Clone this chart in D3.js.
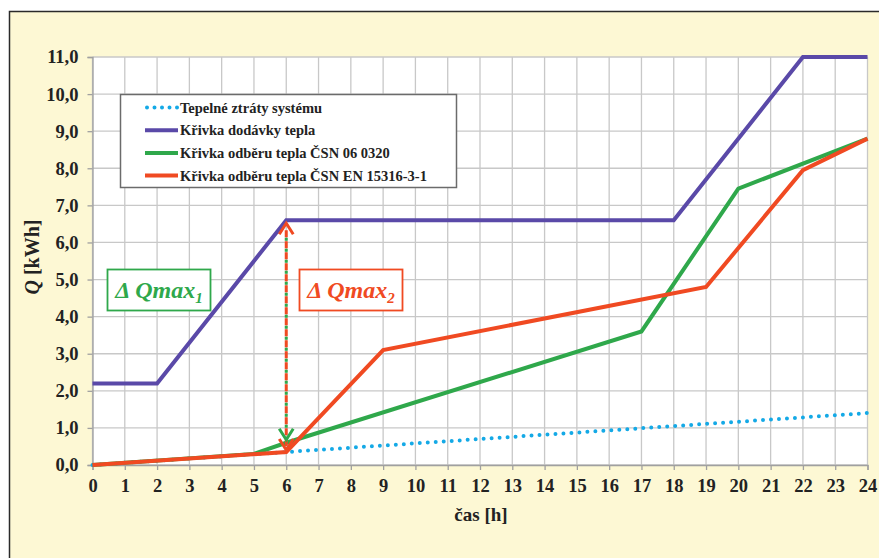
<!DOCTYPE html>
<html>
<head>
<meta charset="utf-8">
<script src="https://cdn.jsdelivr.net/npm/d3@7"></script>
<style>
  html, body { margin: 0; padding: 0; background: #ffffff; }
  svg { display: block; }
  text { font-family: "Liberation Serif", "Times New Roman", serif; }
</style>
</head>
<body>
<svg id="chart" width="879" height="558"></svg>
<script>
// Hours on the x axis and heat values on the y axis
const hourTicks = d3.range(0, 25);
const valueTicks = d3.range(0, 12);

// Heat losses of the system (dotted)
const lossHours  = [0, 6, 12, 18, 24];
const lossValues = [0, 0.35, 0.7, 1.05, 1.4];

// Heat supply curve
const supplyHours  = [0, 2, 6, 18, 22, 24];
const supplyValues = [2.2, 2.2, 6.6, 6.6, 11.0, 11.0];

// Heat demand curve, ČSN 06 0320
const demandCsnHours  = [0, 5, 6, 17, 20, 24];
const demandCsnValues = [0, 0.3, 0.6, 3.6, 7.45, 8.8];

// Heat demand curve, ČSN EN 15316-3-1
const demandEnHours  = [0, 6, 9, 19, 22, 24];
const demandEnValues = [0, 0.35, 3.1, 4.8, 7.95, 8.8];

const seriesNames = [
  "Tepelné ztráty systému",
  "Křivka dodávky tepla",
  "Křivka odběru tepla ČSN 06 0320",
  "Křivka odběru tepla ČSN EN 15316-3-1"
];
const colors = { loss: "#14a9e6", supply: "#5a49a8", csn: "#2fa84b", en: "#f04a22" };

const svg = d3.select("#chart");

// Page frame
svg.append("rect")
  .attr("x", 9.5).attr("y", 11.5).attr("width", 900).attr("height", 600)
  .attr("fill", "#fdf8d4").attr("stroke", "#2a2a2a").attr("stroke-width", 1.5);

const x = d3.scaleLinear().domain([0, 24]).range([92.5, 867.5]);
const y = d3.scaleLinear().domain([0, 11]).range([465, 57]);

// Plot area
svg.append("rect")
  .attr("x", x(0)).attr("y", y(11))
  .attr("width", x(24) - x(0)).attr("height", y(0) - y(11))
  .attr("fill", "#ffffff");

// Grid
const grid = svg.append("g").attr("stroke", "#c8c8c8").attr("stroke-width", 1.3);
grid.selectAll("line.v").data(hourTicks).join("line")
  .attr("x1", d => x(d)).attr("x2", d => x(d))
  .attr("y1", y(0)).attr("y2", y(11));
grid.selectAll("line.h").data(valueTicks).join("line")
  .attr("x1", x(0)).attr("x2", x(24))
  .attr("y1", d => y(d)).attr("y2", d => y(d));

// Axes
const fmt = d => d3.format(".1f")(d).replace(".", ",");
const yAxis = svg.append("g")
  .attr("transform", `translate(${x(0)},0)`)
  .call(d3.axisLeft(y).tickValues(valueTicks).tickFormat(fmt).tickSize(5).tickPadding(9));
const xAxis = svg.append("g")
  .attr("transform", `translate(0,${y(0)})`)
  .call(d3.axisBottom(x).tickValues(hourTicks).tickFormat(d3.format("d")).tickSize(5).tickPadding(9));
[yAxis, xAxis].forEach(ax => {
  ax.attr("font-family", null);
  ax.select(".domain").attr("stroke", "#a0a0a0").attr("stroke-width", 1.3);
  ax.selectAll(".tick line").attr("stroke", "#a0a0a0").attr("stroke-width", 1.3);
  ax.selectAll(".tick text")
    .attr("fill", "#222").attr("font-size", 18.5).attr("font-weight", "bold");
});

// Axis titles
svg.append("text")
  .attr("transform", `translate(39,257) rotate(-90)`)
  .attr("text-anchor", "middle").attr("font-size", 20).attr("font-weight", "bold").attr("fill", "#222")
  .call(t => {
    t.append("tspan").attr("font-style", "italic").text("Q");
    t.append("tspan").text(" [kWh]");
  });
svg.append("text")
  .attr("x", 481).attr("y", 521)
  .attr("text-anchor", "middle").attr("font-size", 19).attr("font-weight", "bold").attr("fill", "#222")
  .text("čas [h]");

// Series
const line = d3.line().x(d => x(d[0])).y(d => y(d[1]));
const pairs = (hs, vs) => hs.map((h, i) => [h, vs[i]]);

svg.append("path").datum(pairs(lossHours, lossValues))
  .attr("d", line).attr("fill", "none")
  .attr("stroke", colors.loss).attr("stroke-width", 4)
  .attr("stroke-linecap", "round").attr("stroke-dasharray", "0 8");

svg.append("path").datum(pairs(supplyHours, supplyValues))
  .attr("d", line).attr("fill", "none")
  .attr("stroke", colors.supply).attr("stroke-width", 4);

svg.append("path").datum(pairs(demandCsnHours, demandCsnValues))
  .attr("d", line).attr("fill", "none")
  .attr("stroke", colors.csn).attr("stroke-width", 4);

svg.append("path").datum(pairs(demandEnHours, demandEnValues))
  .attr("d", line).attr("fill", "none")
  .attr("stroke", colors.en).attr("stroke-width", 4);

// ΔQmax arrows at hour 6: from the supply curve down to each demand curve
const hArrow = 6;
const topV = supplyValues[supplyHours.indexOf(hArrow)];
const csnV = demandCsnValues[demandCsnHours.indexOf(hArrow)];
const enV  = demandEnValues[demandEnHours.indexOf(hArrow)];
const ax6 = x(hArrow);

svg.append("line")
  .attr("x1", ax6).attr("x2", ax6).attr("y1", y(topV) + 10).attr("y2", y(csnV) - 8)
  .attr("stroke", colors.csn).attr("stroke-width", 3).attr("stroke-dasharray", "3 8")
  .attr("stroke-dashoffset", -7.5);
svg.append("line")
  .attr("x1", ax6).attr("x2", ax6).attr("y1", y(topV) + 10).attr("y2", y(enV) - 6)
  .attr("stroke", colors.en).attr("stroke-width", 3).attr("stroke-dasharray", "7 4");

function chevron(cx, tipY, dir, color) {
  // dir = -1 points up, +1 points down
  const w = 7, h = 11;
  svg.append("path")
    .attr("d", `M${cx - w},${tipY - dir * h} L${cx},${tipY} L${cx + w},${tipY - dir * h}`)
    .attr("fill", "none").attr("stroke", color).attr("stroke-width", 3)
    .attr("stroke-linejoin", "miter");
}
chevron(ax6, y(topV) + 3, -1, colors.en);
chevron(ax6, y(csnV) - 3, 1, colors.csn);
chevron(ax6, y(enV) - 2, 1, colors.en);

// ΔQmax labels
function deltaLabel(cx, cy, color, sub) {
  const g = svg.append("g");
  g.append("rect")
    .attr("x", cx - 51.5).attr("y", cy - 20.5).attr("width", 103).attr("height", 41)
    .attr("fill", "#ffffff").attr("stroke", color).attr("stroke-width", 1.8);
  const t = g.append("text")
    .attr("x", cx).attr("y", cy + 8)
    .attr("text-anchor", "middle").attr("fill", color)
    .attr("font-size", 24).attr("font-style", "italic").attr("font-weight", "bold");
  t.append("tspan").text("\u0394\u2009Qmax");
  t.append("tspan").attr("font-size", 15).attr("dy", 5).text(sub);
}
deltaLabel(159, 290, colors.csn, "1");
deltaLabel(351, 290, colors.en, "2");

// Legend
const legend = svg.append("g");
legend.append("rect")
  .attr("x", 120.5).attr("y", 94.5).attr("width", 336).attr("height", 93)
  .attr("fill", "#ffffff").attr("stroke", "#6b6b6b").attr("stroke-width", 1.5);
const legendStyles = [
  { color: colors.loss, dash: "0 7.5" },
  { color: colors.supply, dash: null },
  { color: colors.csn, dash: null },
  { color: colors.en, dash: null }
];
seriesNames.forEach((name, i) => {
  const cy = 107.5 + i * 22.7;
  const s = legendStyles[i];
  const ln = legend.append("line")
    .attr("x1", s.dash ? 147 : 145).attr("x2", 178).attr("y1", cy).attr("y2", cy)
    .attr("stroke", s.color).attr("stroke-width", 4)
    .attr("stroke-linecap", s.dash ? "round" : "butt");
  if (s.dash) ln.attr("stroke-dasharray", s.dash);
  legend.append("text")
    .attr("x", 180).attr("y", cy + 5)
    .attr("font-size", 14.5).attr("font-weight", "bold").attr("fill", "#222")
    .text(name);
});
</script>
</body>
</html>
